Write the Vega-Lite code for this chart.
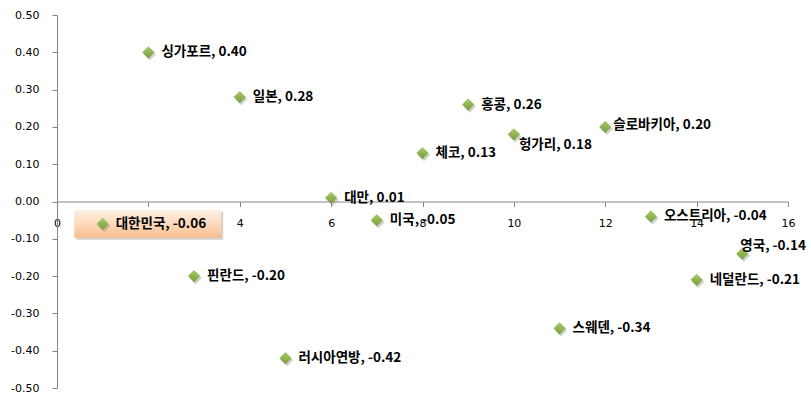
{
  "$schema": "https://vega.github.io/schema/vega-lite/v6.json",
  "width": 731,
  "height": 373,
  "autosize": "none",
  "padding": {"left": 57, "top": 15, "right": 23, "bottom": 16},
  "background": "white",
  "config": {"view": {"stroke": null}},
  "data": {
    "values": [
      {"x": 1, "value": -0.06, "name": "대한민국", "label": "대한민국, -0.06"},
      {"x": 2, "value": 0.40, "name": "싱가포르", "label": "싱가포르, 0.40"},
      {"x": 3, "value": -0.20, "name": "핀란드", "label": "핀란드, -0.20"},
      {"x": 4, "value": 0.28, "name": "일본", "label": "일본, 0.28"},
      {"x": 5, "value": -0.42, "name": "러시아연방", "label": "러시아연방, -0.42"},
      {"x": 6, "value": 0.01, "name": "대만", "label": "대만, 0.01"},
      {"x": 7, "value": -0.05, "name": "미국", "label": "미국, -0.05"},
      {"x": 8, "value": 0.13, "name": "체코", "label": "체코, 0.13"},
      {"x": 9, "value": 0.26, "name": "홍콩", "label": "홍콩, 0.26"},
      {"x": 10, "value": 0.18, "name": "헝가리", "label": "헝가리, 0.18"},
      {"x": 11, "value": -0.34, "name": "스웨덴", "label": "스웨덴, -0.34"},
      {"x": 12, "value": 0.20, "name": "슬로바키아", "label": "슬로바키아, 0.20"},
      {"x": 13, "value": -0.04, "name": "오스트리아", "label": "오스트리아, -0.04"},
      {"x": 14, "value": -0.21, "name": "네덜란드", "label": "네덜란드, -0.21"},
      {"x": 15, "value": -0.14, "name": "영국", "label": "영국, -0.14"}
    ]
  },
  "encoding": {
    "x": {
      "field": "x", "type": "quantitative",
      "scale": {"domain": [0, 16], "nice": false, "zero": false},
      "axis": {
        "title": null, "values": [0, 2, 4, 6, 8, 10, 12, 14, 16],
        "grid": false, "offset": -186.5,
        "domainColor": "#868686", "tickColor": "#868686", "tickSize": 5,
        "labelPadding": 11, "labelFont": "DejaVu Sans", "labelFontSize": 11,
        "labelColor": "#000000", "labelFlush": false
      }
    },
    "y": {
      "field": "value", "type": "quantitative",
      "scale": {"domain": [-0.5, 0.5], "nice": false, "zero": false},
      "axis": {
        "title": null,
        "values": [-0.5, -0.4, -0.3, -0.2, -0.1, 0, 0.1, 0.2, 0.3, 0.4, 0.5],
        "labelExpr": "replace(format(datum.value, '.2f'), '−', '-')",
        "grid": false,
        "domainColor": "#868686", "tickColor": "#868686", "tickSize": 5,
        "labelPadding": 13, "labelFont": "DejaVu Sans", "labelFontSize": 11,
        "labelColor": "#000000", "labelFlush": false
      }
    }
  },
  "layer": [
    {
      "transform": [{"filter": "datum.name === '대한민국'"}],
      "mark": {
        "type": "point", "filled": true,
        "shape": "M-1,-0.19L1,-0.19L1,0.19L-1,0.19Z",
        "size": 21609, "xOffset": 47, "yOffset": 2,
        "color": "#9a9a9a", "opacity": 0.45
      }
    },
    {
      "transform": [{"filter": "datum.name === '대한민국'"}],
      "mark": {
        "type": "point", "filled": true,
        "shape": "M-1,-0.19L1,-0.19L1,0.19L-1,0.19Z",
        "size": 21609, "xOffset": 45, "yOffset": 0, "opacity": 1,
        "fill": {
          "gradient": "linear", "x1": 0, "y1": 0, "x2": 0, "y2": 1,
          "stops": [
            {"offset": 0, "color": "#FEF0E6"},
            {"offset": 0.5, "color": "#FCD9BC"},
            {"offset": 1, "color": "#F9BC8C"}
          ]
        },
        "stroke": null
      }
    },
    {
      "mark": {
        "type": "point", "filled": true, "shape": "diamond", "size": 150,
        "xOffset": 1.5, "yOffset": 2, "color": "#777777", "opacity": 0.35
      }
    },
    {
      "mark": {
        "type": "point", "filled": true, "shape": "diamond", "size": 150, "opacity": 1,
        "fill": {
          "gradient": "linear", "x1": 0, "y1": 0, "x2": 0, "y2": 1,
          "stops": [
            {"offset": 0, "color": "#A9CB6C"},
            {"offset": 1, "color": "#779E3A"}
          ]
        },
        "stroke": null
      }
    },
    {
      "transform": [{"filter": "datum.name !== '헝가리' && datum.name !== '영국' && datum.name !== '슬로바키아'"}],
      "mark": {
        "type": "text", "align": "left", "baseline": "middle", "dx": 13, "dy": 0,
        "font": "Noto Sans CJK KR", "fontWeight": "bold", "fontSize": 13.5, "color": "#000000"
      },
      "encoding": {"text": {"field": "label"}}
    },
    {
      "transform": [{"filter": "datum.name === '헝가리'"}],
      "mark": {
        "type": "text", "align": "left", "baseline": "middle", "dx": 5, "dy": 11,
        "font": "Noto Sans CJK KR", "fontWeight": "bold", "fontSize": 13.5, "color": "#000000"
      },
      "encoding": {"text": {"field": "label"}}
    },
    {
      "transform": [{"filter": "datum.name === '슬로바키아'"}],
      "mark": {
        "type": "text", "align": "left", "baseline": "middle", "dx": 8, "dy": -2,
        "font": "Noto Sans CJK KR", "fontWeight": "bold", "fontSize": 13.5, "color": "#000000"
      },
      "encoding": {"text": {"field": "label"}}
    },
    {
      "transform": [{"filter": "datum.name === '영국'"}],
      "mark": {
        "type": "text", "align": "left", "baseline": "middle", "dx": -2, "dy": -8,
        "font": "Noto Sans CJK KR", "fontWeight": "bold", "fontSize": 13.5, "color": "#000000"
      },
      "encoding": {"text": {"field": "label"}}
    }
  ]
}
